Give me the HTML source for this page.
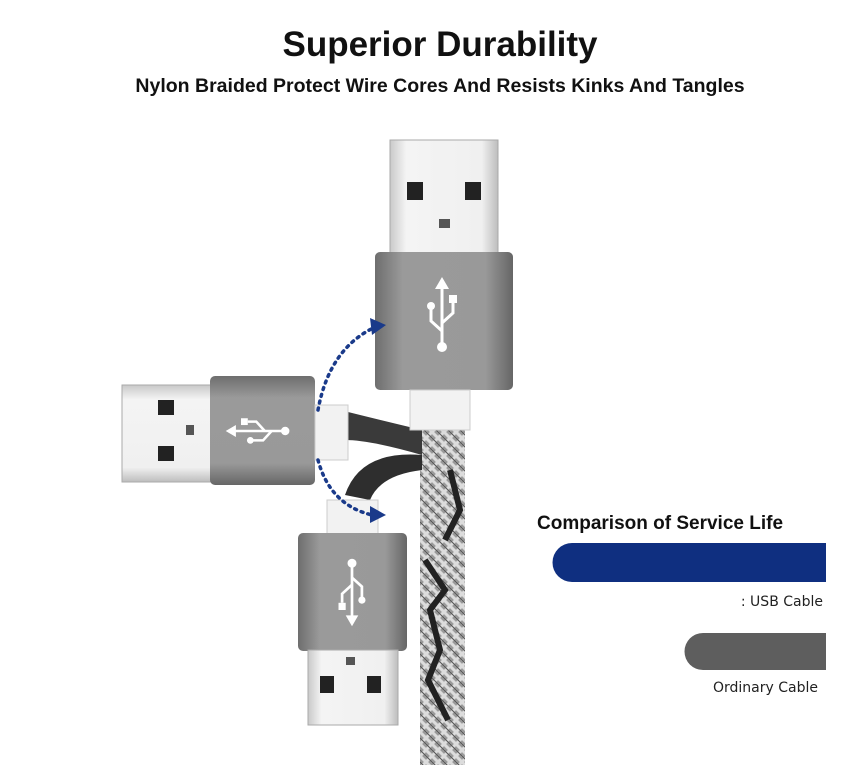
<!DOCTYPE html>
<html><head><meta charset="utf-8"><style>
html,body{margin:0;padding:0;background:#fff;}
body{width:865px;height:765px;overflow:hidden;}
</style></head><body>
<svg width="865" height="765" viewBox="0 0 865 765" xmlns="http://www.w3.org/2000/svg">
<defs>
<linearGradient id="metal" x1="0" x2="1" y1="0" y2="0">
<stop offset="0" stop-color="#c9c9c9"/><stop offset="0.15" stop-color="#f4f4f4"/><stop offset="0.85" stop-color="#f0f0f0"/><stop offset="1" stop-color="#bdbdbd"/></linearGradient>
<linearGradient id="metalv" x1="0" x2="0" y1="0" y2="1">
<stop offset="0" stop-color="#c9c9c9"/><stop offset="0.15" stop-color="#f4f4f4"/><stop offset="0.85" stop-color="#f0f0f0"/><stop offset="1" stop-color="#bdbdbd"/></linearGradient>
<linearGradient id="house" x1="0" x2="1" y1="0" y2="0">
<stop offset="0" stop-color="#6e6e6e"/><stop offset="0.2" stop-color="#9a9a9a"/><stop offset="0.8" stop-color="#999"/><stop offset="1" stop-color="#666"/></linearGradient>
<linearGradient id="housev" x1="0" x2="0" y1="0" y2="1">
<stop offset="0" stop-color="#6e6e6e"/><stop offset="0.2" stop-color="#9a9a9a"/><stop offset="0.8" stop-color="#999"/><stop offset="1" stop-color="#666"/></linearGradient>
<pattern id="braid" width="12" height="12" patternUnits="userSpaceOnUse">
<rect width="12" height="12" fill="#9a9a9a"/><path d="M0 0L12 12M12 0L0 12" stroke="#dcdcdc" stroke-width="3"/><path d="M6 0L12 6M0 6L6 12" stroke="#555" stroke-width="1"/></pattern>
<g id="usb" fill="none" stroke="#fff" stroke-width="3">
<path d="M0 -28V28"/><path d="M-7 -26L0 -38 7 -26Z" fill="#fff" stroke="none"/>
<circle cx="0" cy="32" r="5" fill="#fff" stroke="none"/>
<path d="M0 16L-11 6V-6"/><circle cx="-11" cy="-9" r="4" fill="#fff" stroke="none"/>
<path d="M0 8L11 -2V-12"/><rect x="7" y="-20" width="8" height="8" fill="#fff" stroke="none"/>
</g>
</defs>
<text x="440" y="56" text-anchor="middle" font-family="Liberation Sans, sans-serif" font-weight="bold" font-size="35" fill="#111">Superior Durability</text>
<text x="440" y="92" text-anchor="middle" font-family="Liberation Sans, sans-serif" font-weight="bold" font-size="19.5" fill="#111">Nylon Braided Protect Wire Cores And Resists Kinks And Tangles</text>

<rect x="420" y="428" width="45" height="337" fill="url(#braid)"/>
<path d="M425 560l20 30-15 20 10 40-12 30 20 40M450 470l10 40-15 30" stroke="#222" stroke-width="6" fill="none"/>
<path d="M340 410 Q380 420 422 430 L422 455 Q370 440 345 440Z" fill="#3a3a3a"/>
<path d="M422 455 Q360 450 345 495 L370 500 Q380 475 422 470Z" fill="#2e2e2e"/>

<rect x="390" y="140" width="108" height="115" fill="url(#metal)" stroke="#aaa"/>
<rect x="407" y="182" width="16" height="18" fill="#222"/><rect x="465" y="182" width="16" height="18" fill="#222"/>
<rect x="439" y="219" width="11" height="9" fill="#555"/>
<rect x="375" y="252" width="138" height="138" rx="5" fill="url(#house)"/>
<use href="#usb" transform="translate(442 315)"/>
<rect x="410" y="390" width="60" height="40" fill="#f2f2f2" stroke="#ccc"/>

<rect x="122" y="385" width="92" height="97" fill="url(#metalv)" stroke="#aaa"/>
<rect x="158" y="400" width="16" height="15" fill="#222"/><rect x="158" y="446" width="16" height="15" fill="#222"/>
<rect x="186" y="425" width="8" height="10" fill="#555"/>
<rect x="210" y="376" width="105" height="109" rx="5" fill="url(#housev)"/>
<use href="#usb" transform="translate(258 431) rotate(-90) scale(0.85)"/>
<rect x="315" y="405" width="33" height="55" fill="#f2f2f2" stroke="#ccc"/>

<rect x="327" y="500" width="51" height="36" fill="#f2f2f2" stroke="#ccc"/>
<rect x="298" y="533" width="109" height="118" rx="5" fill="url(#house)"/>
<use href="#usb" transform="translate(352 592) rotate(180) scale(0.9)"/>
<rect x="308" y="650" width="90" height="75" fill="url(#metal)" stroke="#aaa"/>
<rect x="320" y="676" width="14" height="17" fill="#222"/><rect x="367" y="676" width="14" height="17" fill="#222"/>
<rect x="346" y="657" width="9" height="8" fill="#555"/>

<path d="M318 410 Q330 345 380 325" stroke="#1a3a8a" stroke-width="3.5" stroke-dasharray="2 5" stroke-linecap="round" fill="none"/>
<path d="M370 318L386 325 372 335Z" fill="#1a3a8a"/>
<path d="M318 460 Q330 505 372 515" stroke="#1a3a8a" stroke-width="3.5" stroke-dasharray="2 5" stroke-linecap="round" fill="none"/>
<path d="M370 506L386 515 370 523Z" fill="#1a3a8a"/>

<text x="537" y="529" font-family="Liberation Sans, sans-serif" font-weight="bold" font-size="19" fill="#111">Comparison of Service Life</text>
<path d="M572 543H826V582H572A19.5 19.5 0 0 1 572 543Z" fill="#0f2f80"/>
<text x="823" y="606" text-anchor="end" font-family="DejaVu Sans, sans-serif" font-size="14" fill="#222">: USB Cable</text>
<path d="M703 633H826V670H703A18.5 18.5 0 0 1 703 633Z" fill="#5e5e5e"/>
<text x="818" y="692" text-anchor="end" font-family="DejaVu Sans, sans-serif" font-size="14" fill="#222">Ordinary Cable</text>
</svg>
</body></html>
